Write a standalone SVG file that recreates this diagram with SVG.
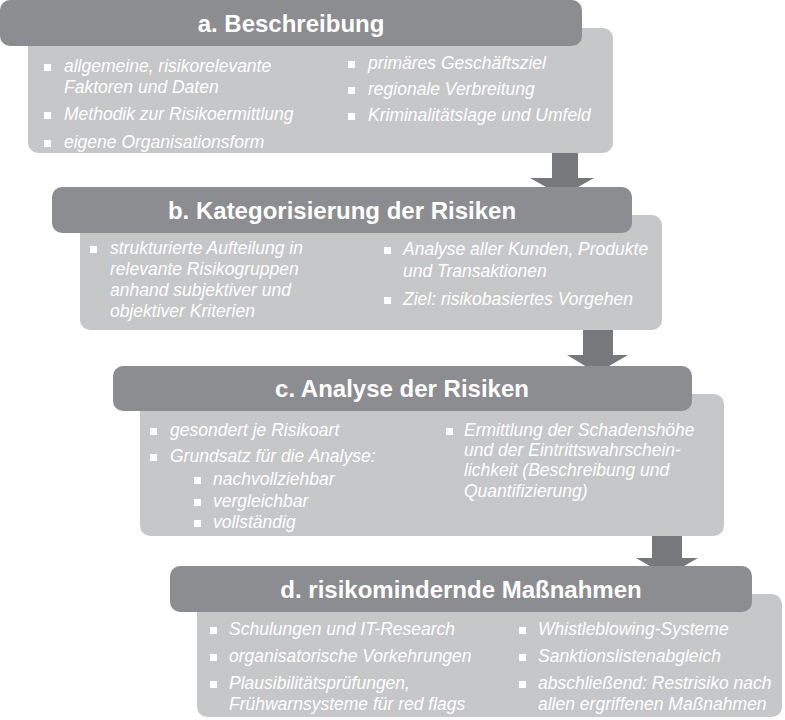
<svg xmlns="http://www.w3.org/2000/svg" width="785" height="720" viewBox="0 0 785 720">
<style>
.hd{fill:#8c8d91}
.bd{fill:#c6c7c9}
.ar{fill:#77787b}
.h{font-family:"Liberation Sans",Arial,sans-serif;font-weight:bold;font-size:24px;fill:#fff;text-anchor:middle}
.t{font-family:"Liberation Sans",Arial,sans-serif;font-style:italic;font-size:17.5px;fill:#fff}
.b{fill:#fff}
</style>
<rect width="785" height="720" fill="#fff"/>
<g id="connectors">
<polygon class="ar" points="552,146 578,146 578,178 594,178 562,196 530,178 552,178"/>
<polygon class="ar" points="583,325 613,325 613,355 628,355 597,373 567,355 583,355"/>
<polygon class="ar" points="652,527 682,527 682,558 698,558 667,576 636,558 652,558"/>
</g>
<g id="a">
<rect class="bd" x="28" y="28" width="585" height="125" rx="10"/>
<rect class="hd" x="0" y="0" width="582" height="46" rx="10"/>
<text class="h" x="291" y="32">a. Beschreibung</text>
<rect class="b" x="44" y="64" width="7" height="7"/><text class="t" x="64" y="72">allgemeine, risikorelevante</text>
<text class="t" x="64" y="93">Faktoren und Daten</text>
<rect class="b" x="44" y="112" width="7" height="7"/><text class="t" x="64" y="120">Methodik zur Risikoermittlung</text>
<rect class="b" x="44" y="140" width="7" height="7"/><text class="t" x="64" y="148">eigene Organisationsform</text>
<rect class="b" x="348" y="61" width="7" height="7"/><text class="t" x="368" y="69">primäres Geschäftsziel</text>
<rect class="b" x="348" y="87" width="7" height="7"/><text class="t" x="368" y="95">regionale Verbreitung</text>
<rect class="b" x="348" y="113" width="7" height="7"/><text class="t" x="368" y="121">Kriminalitätslage und Umfeld</text>
</g>
<g id="b">
<rect class="bd" x="80" y="215" width="582" height="115" rx="10"/>
<rect class="hd" x="52" y="187" width="580" height="46" rx="10"/>
<text class="h" x="342" y="219">b. Kategorisierung der Risiken</text>
<rect class="b" x="90" y="246" width="7" height="7"/><text class="t" x="110" y="254">strukturierte Aufteilung in</text>
<text class="t" x="110" y="275">relevante Risikogruppen</text>
<text class="t" x="110" y="296">anhand subjektiver und</text>
<text class="t" x="110" y="317">objektiver Kriterien</text>
<rect class="b" x="384" y="247" width="7" height="7"/><text class="t" x="403" y="255">Analyse aller Kunden, Produkte</text>
<text class="t" x="403" y="277">und Transaktionen</text>
<rect class="b" x="384" y="297" width="7" height="7"/><text class="t" x="403" y="305">Ziel: risikobasiertes Vorgehen</text>
</g>
<g id="c">
<rect class="bd" x="140" y="394" width="584" height="142" rx="10"/>
<rect class="hd" x="113" y="366" width="579" height="45" rx="10"/>
<text class="h" x="402" y="397">c. Analyse der Risiken</text>
<rect class="b" x="150" y="428" width="7" height="7"/><text class="t" x="170" y="436">gesondert je Risikoart</text>
<rect class="b" x="150" y="454" width="7" height="7"/><text class="t" x="170" y="462">Grundsatz für die Analyse:</text>
<rect class="b" x="194" y="477" width="7" height="7"/><text class="t" x="213" y="485">nachvollziehbar</text>
<rect class="b" x="194" y="499" width="7" height="7"/><text class="t" x="213" y="507">vergleichbar</text>
<rect class="b" x="194" y="520" width="7" height="7"/><text class="t" x="213" y="528">vollständig</text>
<rect class="b" x="446" y="428" width="7" height="7"/><text class="t" x="464" y="436">Ermittlung der Schadenshöhe</text>
<text class="t" x="464" y="456">und der Eintrittswahrschein-</text>
<text class="t" x="464" y="476">lichkeit (Beschreibung und</text>
<text class="t" x="464" y="497">Quantifizierung)</text>
</g>
<g id="d">
<rect class="bd" x="197" y="594" width="585" height="123" rx="10"/>
<rect class="hd" x="170" y="566" width="582" height="46" rx="10"/>
<text class="h" x="461" y="598">d. risikomindernde Maßnahmen</text>
<rect class="b" x="210" y="627" width="7" height="7"/><text class="t" x="229" y="635">Schulungen und IT-Research</text>
<rect class="b" x="210" y="654" width="7" height="7"/><text class="t" x="229" y="662">organisatorische Vorkehrungen</text>
<rect class="b" x="210" y="681" width="7" height="7"/><text class="t" x="229" y="689">Plausibilitätsprüfungen,</text>
<text class="t" x="229" y="710">Frühwarnsysteme für red flags</text>
<rect class="b" x="519" y="627" width="7" height="7"/><text class="t" x="538" y="635">Whistleblowing-Systeme</text>
<rect class="b" x="519" y="654" width="7" height="7"/><text class="t" x="538" y="662">Sanktionslistenabgleich</text>
<rect class="b" x="519" y="681" width="7" height="7"/><text class="t" x="538" y="689">abschließend: Restrisiko nach</text>
<text class="t" x="538" y="710">allen ergriffenen Maßnahmen</text>
</g>
</svg>
